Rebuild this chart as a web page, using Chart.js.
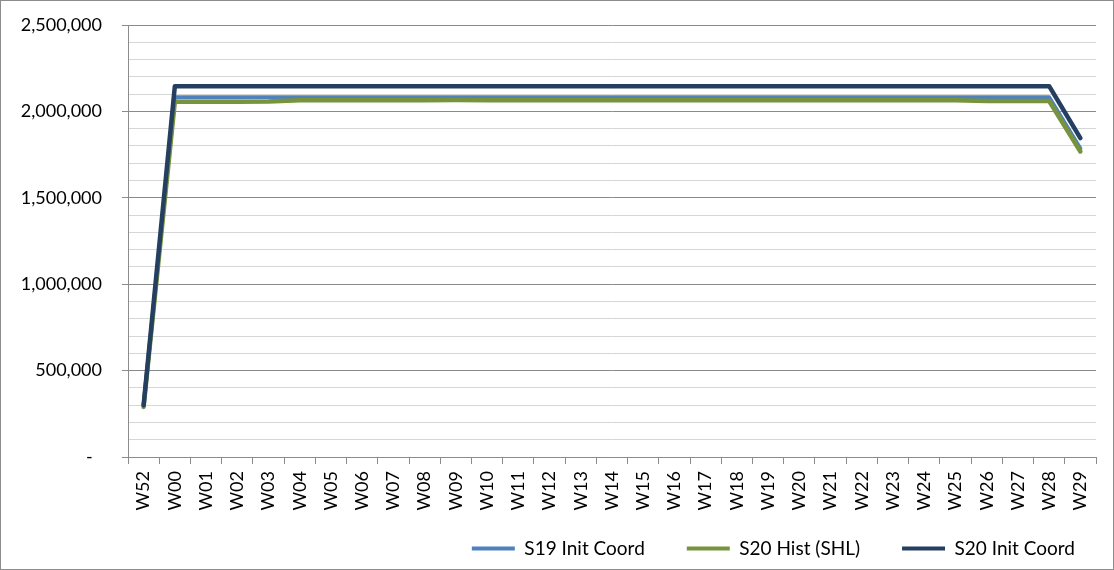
<!DOCTYPE html>
<html>
<head>
<meta charset="utf-8">
<script src="https://cdn.jsdelivr.net/npm/chart.js@4"></script>
<style>
    body { margin: 0; background: #fff; }
    #wrap {
        width: 1114px;
        height: 570px;
        box-sizing: border-box;
        border: 1px solid #8c8c8c;
        position: relative;
    }
    canvas { display: block; }
</style>
</head>
<body>
<div id="wrap"><canvas id="weekChart" width="1112" height="568"></canvas></div>
<script>
const weeks = ['W52', 'W00', 'W01', 'W02', 'W03', 'W04', 'W05', 'W06', 'W07', 'W08', 'W09',
    'W10', 'W11', 'W12', 'W13', 'W14', 'W15', 'W16', 'W17', 'W18', 'W19', 'W20',
    'W21', 'W22', 'W23', 'W24', 'W25', 'W26', 'W27', 'W28', 'W29'];

const s19InitCoord = [300000,
    2082000, 2082000, 2082000, 2082000, 2082000, 2082000, 2082000, 2082000, 2082000, 2082000,
    2082000, 2082000, 2082000, 2082000, 2082000, 2082000, 2082000, 2082000, 2082000, 2082000,
    2082000, 2082000, 2082000, 2082000, 2082000, 2082000, 2082000, 2082000, 2082000, 1785000];

const s20HistShl = [290000,
    2056000, 2056000, 2056000, 2058000, 2064000, 2064000, 2064000, 2064000, 2065000, 2066000,
    2065000, 2065000, 2065000, 2065000, 2065000, 2065000, 2065000, 2065000, 2065000, 2065000,
    2065000, 2065000, 2065000, 2065000, 2065000, 2064000, 2060000, 2060000, 2060000, 1768000];

const s20InitCoord = [300000,
    2146000, 2146000, 2146000, 2146000, 2146000, 2146000, 2146000, 2146000, 2146000, 2146000,
    2146000, 2146000, 2146000, 2146000, 2146000, 2146000, 2146000, 2146000, 2146000, 2146000,
    2146000, 2146000, 2146000, 2146000, 2146000, 2146000, 2146000, 2146000, 2146000, 1845000];

const yMax = 2500000;
const yStep = 100000;
const yMajor = 500000;

const fontFamily = 'Lato, "Open Sans", sans-serif';
const legendGap = 42;

function makeLine(label, data, color, width, order) {
    return {
        label: label,
        data: data,
        borderColor: color,
        backgroundColor: color,
        borderWidth: width,
        pointRadius: 0,
        pointHoverRadius: 0,
        tension: 0,
        fill: false,
        order: order,
        borderJoinStyle: 'round',
        borderCapStyle: 'round'
    };
}

// legend row sits further right than chart.js puts it, and the
// week labels hang below the x box, so let them draw there
const layoutTweak = {
    id: 'layoutTweak',
    afterLayout(chart) {
        if (chart.legend) chart.legend.right += 21;
        chart.scales.x.bottom = chart.height;
    }
};

const ctx = document.getElementById('weekChart').getContext('2d');

new Chart(ctx, {
    type: 'line',
    data: {
        labels: weeks,
        datasets: [
            makeLine('S19 Init Coord', s19InitCoord, '#4f81bd', 4, 2),
            makeLine('S20 Hist (SHL)', s20HistShl, '#77933c', 4.5, 1),
            makeLine('S20 Init Coord', s20InitCoord, '#243f60', 4.5, 0)
        ]
    },
    plugins: [layoutTweak],
    options: {
        responsive: false,
        animation: false,
        layout: { padding: { top: 24, right: 17, left: 0, bottom: 1 } },
        plugins: {
            tooltip: { enabled: false },
            legend: {
                position: 'bottom',
                align: 'end',
                labels: {
                    boxWidth: 43,
                    boxHeight: 4,
                    padding: legendGap,
                    color: '#000',
                    font: { family: fontFamily, size: 19 },
                    sort: (a, b) => a.datasetIndex - b.datasetIndex,
                    generateLabels: (chart) => {
                        const items = Chart.defaults.plugins.legend.labels.generateLabels(chart);
                        items.forEach(it => { it.lineWidth = 0; });
                        return items;
                    }
                }
            }
        },
        scales: {
            x: {
                offset: true,
                grid: {
                    offset: true,
                    drawOnChartArea: false,
                    tickLength: 7,
                    color: '#8c8c8c'
                },
                border: { color: '#8c8c8c' },
                ticks: {
                    autoSkip: false,
                    minRotation: 90,
                    maxRotation: 90,
                    padding: 7,
                    color: '#000',
                    font: { family: fontFamily, size: 18 }
                },
                afterFit: (scale) => {
                    scale.height = 40;
                    scale.paddingTop = 0;
                    scale.paddingBottom = 0;
                }
            },
            y: {
                min: 0,
                max: yMax,
                border: { color: '#8c8c8c' },
                grid: {
                    tickLength: 6,
                    color: (c) => (c.tick && c.tick.value % yMajor === 0) ? '#8a8a8a' : '#d6d6d6',
                    tickColor: (c) => (c.tick && c.tick.value % yMajor === 0) ? '#8a8a8a' : 'rgba(0,0,0,0)'
                },
                ticks: {
                    stepSize: yStep,
                    autoSkip: false,
                    padding: 20,
                    color: '#000',
                    font: { family: fontFamily, size: 18 },
                    callback: (v) => {
                        if (v === 0) return '-  ';
                        if (v % yMajor !== 0) return '';
                        return v.toLocaleString('en-US');
                    }
                },
                afterFit: (scale) => {
                    scale.width = 127;
                    scale.paddingTop = 0;
                    scale.paddingBottom = 0;
                }
            }
        }
    }
});
</script>
</body>
</html>
